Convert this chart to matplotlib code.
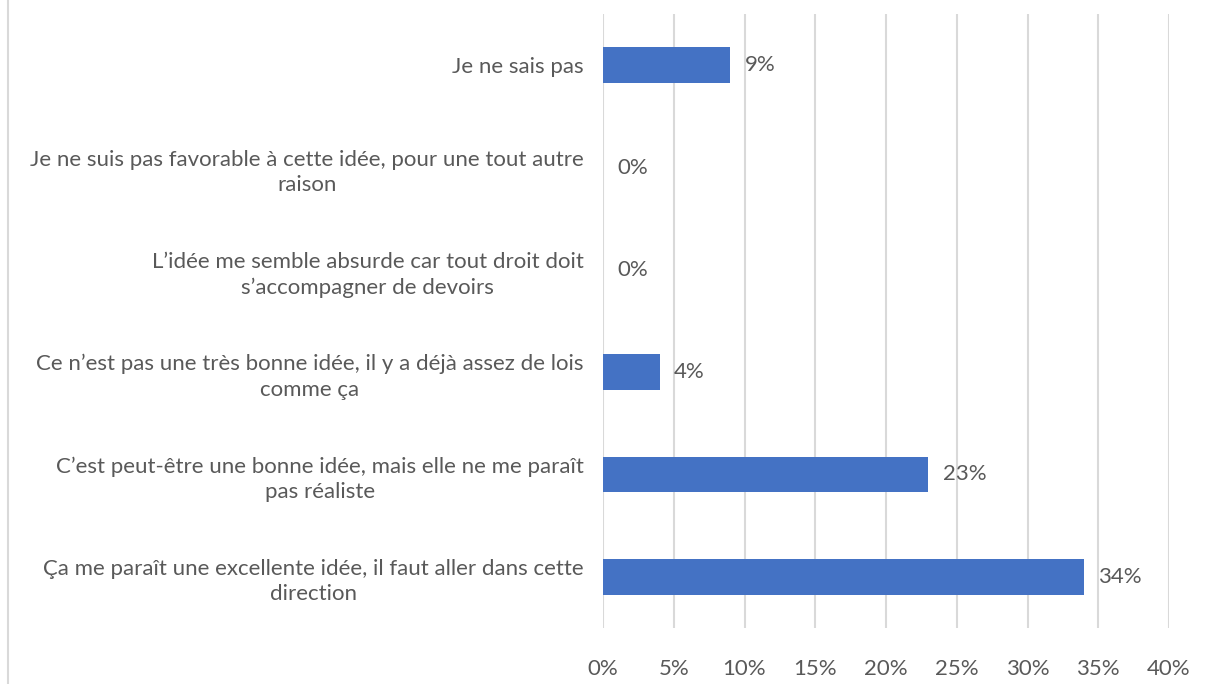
import matplotlib.pyplot as plt
from matplotlib.lines import Line2D

categories = [
    "Je ne sais pas",
    "Je ne suis pas favorable à cette idée, pour une tout autre\nraison",
    "L’idée me semble absurde car tout droit doit\ns’accompagner de devoirs",
    "Ce n’est pas une très bonne idée, il y a déjà assez de lois\ncomme ça",
    "C’est peut-être une bonne idée, mais elle ne me paraît\npas réaliste",
    "Ça me paraît une excellente idée, il faut aller dans cette\ndirection",
]
values = [9, 0, 0, 4, 23, 34]
xticks = [0, 5, 10, 15, 20, 25, 30, 35, 40]

plt.rcParams['font.family'] = ['Lato', 'DejaVu Sans']
text_color = '#595959'
fs = 16

fig = plt.figure(figsize=(12.15, 6.84), dpi=100)
ax = fig.add_axes([603 / 1215, 1 - 628 / 684, (1169 - 603) / 1215, (628 - 14) / 684])

y = list(range(len(categories)))[::-1]
ax.barh(y, values, height=0.35, color='#4472C4', zorder=3)
for yi, v in zip(y, values):
    ax.text(v + 1.0, yi, f"{v}%", va='center', ha='left', fontsize=fs, color=text_color)

ax.set_xlim(0, 40)
ax.set_ylim(-0.5, len(categories) - 0.5)
ax.set_xticks(xticks)
ax.set_xticklabels([f"{t}%" for t in xticks], fontsize=16.5)
ax.set_yticks(y)
ax.set_yticklabels(categories, multialignment='center', linespacing=1.35)
ax.tick_params(axis='both', length=0, labelsize=fs, labelcolor=text_color)
ax.tick_params(axis='x', pad=22)
ax.tick_params(axis='y', pad=14)
ax.grid(axis='x', color='#D9D9D9', linewidth=1.5, zorder=0)
for s in ax.spines.values():
    s.set_visible(False)

fig.add_artist(Line2D([8 / 1215, 8 / 1215], [0, 1], color='#D9D9D9', linewidth=1.5, transform=fig.transFigure))

fig.savefig('out.png', dpi=100)
